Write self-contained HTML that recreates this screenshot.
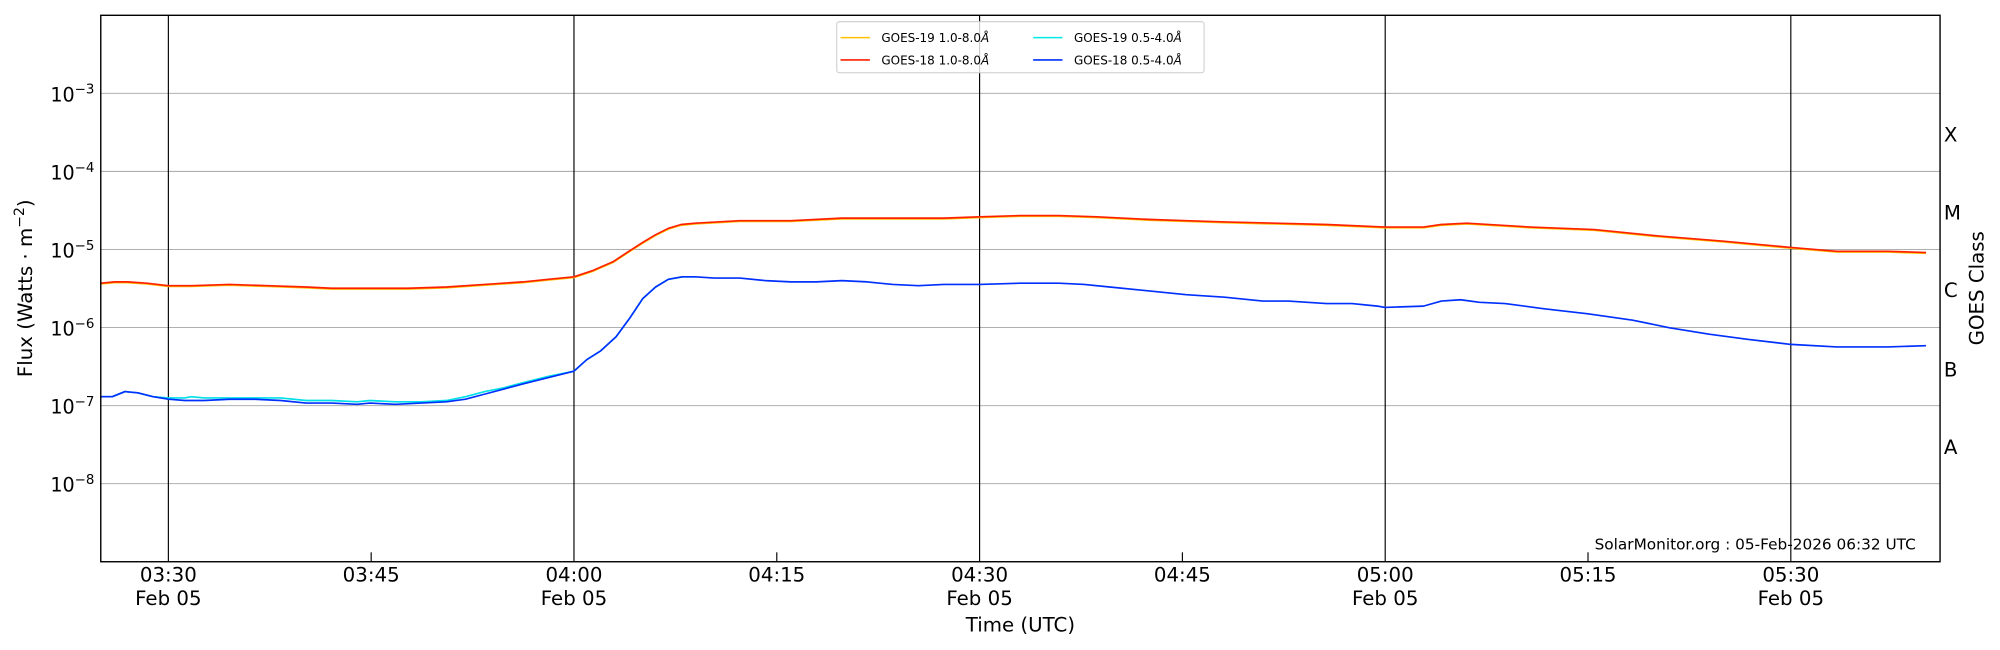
<!DOCTYPE html>
<html><head><meta charset="utf-8"><style>
html,body{margin:0;padding:0;background:#fff;}
svg{display:block;font-family:"DejaVu Sans","Liberation Sans",sans-serif;}
</style></head><body>
<svg width="2000" height="650" viewBox="0 0 1568 509.6" xmlns="http://www.w3.org/2000/svg">
<rect width="1568" height="509.6" fill="#fff"/>
<g stroke="#b0b0b0" stroke-width="0.8">
<line x1="79" x2="1521" y1="73.2" y2="73.2"/>
<line x1="79" x2="1521" y1="134.4" y2="134.4"/>
<line x1="79" x2="1521" y1="195.6" y2="195.6"/>
<line x1="79" x2="1521" y1="256.8" y2="256.8"/>
<line x1="79" x2="1521" y1="318" y2="318"/>
<line x1="79" x2="1521" y1="379.2" y2="379.2"/>
</g>
<g stroke="#000" stroke-width="0.9">
<line x1="132" x2="132" y1="12" y2="440.4"/>
<line x1="450" x2="450" y1="12" y2="440.4"/>
<line x1="768" x2="768" y1="12" y2="440.4"/>
<line x1="1086" x2="1086" y1="12" y2="440.4"/>
<line x1="1404" x2="1404" y1="12" y2="440.4"/>
<line x1="291" x2="291" y1="440.4" y2="433"/>
<line x1="609" x2="609" y1="440.4" y2="433"/>
<line x1="927" x2="927" y1="440.4" y2="433"/>
<line x1="1245" x2="1245" y1="440.4" y2="433"/>
</g>
<g id="ticks" stroke="#000" stroke-width="0.7"></g>
<g fill="none" stroke-width="1.3" stroke-linejoin="round">
<polyline stroke="#ffc000" transform="translate(0,0.6)" points="79,222 90,221 100,221 115,222 132,224 150,224 180,223 210,224 240,225 260,226 290,226 320,226 350,225 380,223 410,221 430,219 450,217 465,212 481,205 493,197 504,190 514,184 524,179 534,176 545,175 580,173 620,173 660,171 700,171 740,171 768,170 800,169 830,169 860,170 900,172 930,173 960,174 1000,175 1040,176 1086,178 1116,178 1130,176 1150,175 1200,178 1250,180 1300,185 1350,189 1404,194 1440,197 1480,197 1510,198"/>
<polyline stroke="#ff2000" points="79,222 90,221 100,221 115,222 132,224 150,224 180,223 210,224 240,225 260,226 290,226 320,226 350,225 380,223 410,221 430,219 450,217 465,212 481,205 493,197 504,190 514,184 524,179 534,176 545,175 580,173 620,173 660,171 700,171 740,171 768,170 800,169 830,169 860,170 900,172 930,173 960,174 1000,175 1040,176 1086,178 1116,178 1130,176 1150,175 1200,178 1250,180 1300,185 1350,189 1404,194 1440,197 1480,197 1510,198"/>
<polyline stroke="#00e0e8" points="79,311 88,311 98,307 108,308 120,311 132,312 145,312 150,311 160,312 180,312 200,312 220,312 240,314 260,314 280,315 290,314 310,315 330,315 350,314 365,311 380,307 395,304 410,300 430,295 450,291 460,282 471,275 483,264 494,249 504,234 514,225 524,219 535,217 545,217"/>
<polyline stroke="#0030ff" points="79,311 88,311 98,307 108,308 120,311 132,313 145,314 160,314 180,313 200,313 220,314 240,316 260,316 280,317 290,316 310,317 330,316 350,315 365,313 380,309 395,305 410,301 430,296 450,291 460,282 471,275 483,264 494,249 504,234 514,225 524,219 535,217 545,217 560,218 580,218 600,220 620,221 640,221 660,220 680,221 700,223 720,224 740,223 768,223 800,222 830,222 850,223 870,225 900,228 930,231 960,233 990,236 1010,236 1040,238 1060,238 1080,240 1086,241 1116,240 1130,236 1145,235 1160,237 1180,238 1210,242 1245,246 1280,251 1309,257 1340,262 1370,266 1404,270 1440,272 1480,272 1510,271"/>
</g>
<rect x="79" y="12" width="1442" height="428.4" fill="none" stroke="#000" stroke-width="1.1"/>
<rect x="656" y="17" width="288" height="40" rx="2" fill="#fff" fill-opacity="0.8" stroke="#ccc" stroke-width="0.8"/>
<g stroke-width="1.2">
<line x1="659" x2="682" y1="29.5" y2="29.5" stroke="#ffc000"/>
<line x1="659" x2="682" y1="47" y2="47" stroke="#ff2000"/>
<line x1="810" x2="833" y1="29.5" y2="29.5" stroke="#00e8e8"/>
<line x1="810" x2="833" y1="47" y2="47" stroke="#0030ff"/>
</g>
<g font-size="9.4" fill="#000">
<text x="691" y="33">GOES-19 1.0-8.0<tspan font-style="italic">Å</tspan></text>
<text x="691" y="50.5">GOES-18 1.0-8.0<tspan font-style="italic">Å</tspan></text>
<text x="842" y="33">GOES-19 0.5-4.0<tspan font-style="italic">Å</tspan></text>
<text x="842" y="50.5">GOES-18 0.5-4.0<tspan font-style="italic">Å</tspan></text>
</g>
<g font-size="15.5" fill="#000" text-anchor="middle">
<text x="132" y="456">03:30</text><text x="132" y="474.5">Feb 05</text>
<text x="291" y="456">03:45</text>
<text x="450" y="456">04:00</text><text x="450" y="474.5">Feb 05</text>
<text x="609" y="456">04:15</text>
<text x="768" y="456">04:30</text><text x="768" y="474.5">Feb 05</text>
<text x="927" y="456">04:45</text>
<text x="1086" y="456">05:00</text><text x="1086" y="474.5">Feb 05</text>
<text x="1245" y="456">05:15</text>
<text x="1404" y="456">05:30</text><text x="1404" y="474.5">Feb 05</text>
<text x="800" y="495">Time (UTC)</text>
</g>
<g font-size="15" fill="#000" text-anchor="end">
<text x="74" y="79.5">10<tspan font-size="10.5" dy="-6">−3</tspan></text>
<text x="74" y="140.7">10<tspan font-size="10.5" dy="-6">−4</tspan></text>
<text x="74" y="201.9">10<tspan font-size="10.5" dy="-6">−5</tspan></text>
<text x="74" y="263.1">10<tspan font-size="10.5" dy="-6">−6</tspan></text>
<text x="74" y="324.3">10<tspan font-size="10.5" dy="-6">−7</tspan></text>
<text x="74" y="385.5">10<tspan font-size="10.5" dy="-6">−8</tspan></text>
</g>
<text transform="translate(25,226) rotate(-90)" font-size="15.5" text-anchor="middle">Flux (Watts · m<tspan font-size="11" dy="-6">−2</tspan><tspan dy="6">)</tspan></text>
<g font-size="15.5" fill="#000">
<text x="1524" y="111">X</text>
<text x="1524" y="172">M</text>
<text x="1524" y="233">C</text>
<text x="1524" y="295">B</text>
<text x="1524" y="356">A</text>
</g>
<text transform="translate(1555,226) rotate(-90)" font-size="15.5" text-anchor="middle">GOES Class</text>
<text x="1502" y="431" font-size="12" text-anchor="end">SolarMonitor.org : 05-Feb-2026 06:32 UTC</text>
<script>
(function(){var g=document.getElementById('ticks'),s='';
for(var e=-9;e<-2;e++){var y0=73.2+(-3-e)*61.2;
for(var k=1;k<10;k++){var y=y0-Math.log10(k)*61.2;if(y<12)continue;var L=k==1?8:4.5;
s+='<line x1="79" x2="'+(79+L)+'" y1="'+y+'" y2="'+y+'"/>';
s+='<line x1="1521" x2="'+(1521-L)+'" y1="'+y+'" y2="'+y+'"/>';}}
g.innerHTML=s;})();
</script>
</svg>
</body></html>
